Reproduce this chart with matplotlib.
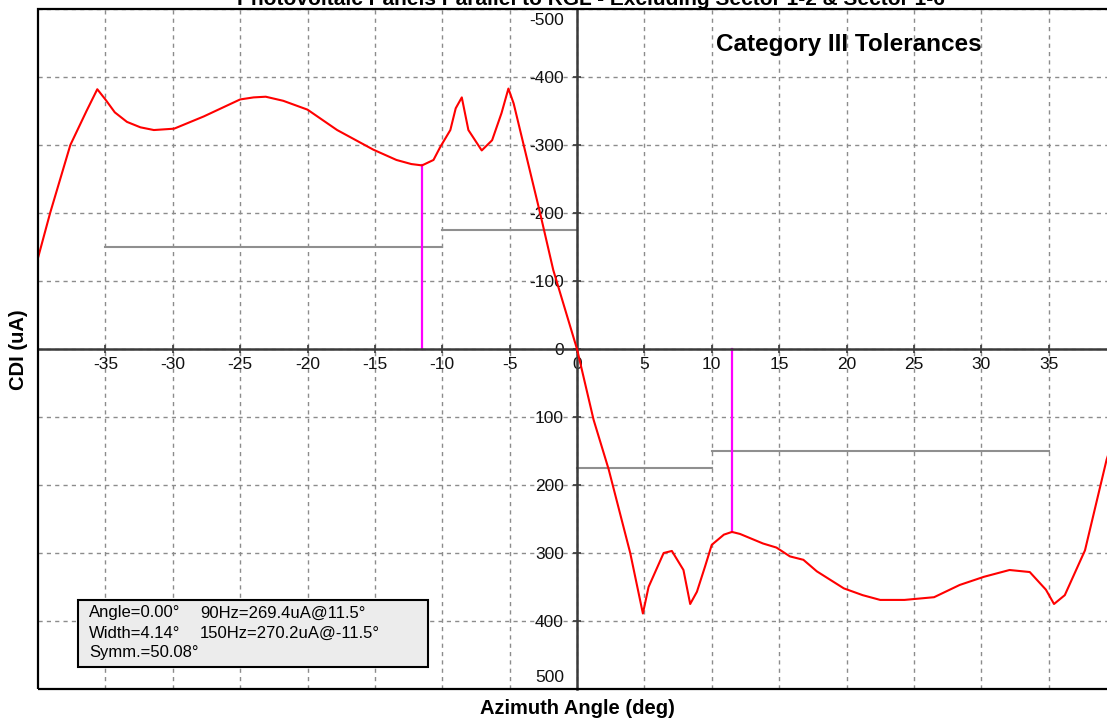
import matplotlib
matplotlib.use('Agg')
import matplotlib.pyplot as plt
from matplotlib.patches import Rectangle

plt.rcParams['font.family'] = ['Liberation Sans', 'DejaVu Sans']

# CDI curve (deg, uA) - left half is 150Hz side (negative)
angle = [-40, -39.1, -37.6, -36.4, -35.6, -35.0, -34.3, -33.4, -32.4, -31.4,
         -29.9, -27.7, -25.0, -24.0, -23.1, -21.8, -20.0, -17.8, -15.1, -13.4,
         -12.3, -11.5, -10.65, -10.15, -9.4, -9.0, -8.55, -8.06, -7.07, -6.3,
         -5.6, -5.09, -4.7, -2.74, -1.76, 0,
         1.23, 2.35, 3.95, 4.89, 5.31, 6.43, 7.04, 7.9, 8.4, 8.9,
         9.5, 10.0, 10.9, 11.5, 12.1, 13.8, 14.8, 15.8, 16.8, 17.8,
         19.8, 21.2, 22.5, 24.3, 26.5, 28.4, 30.2, 32.1, 33.6, 34.8,
         35.4, 36.2, 37.7, 39.3, 40]
cdi = [-134, -200, -300, -350, -382, -367, -348, -334, -326, -322,
       -324, -342, -367, -370, -371, -365, -352, -322, -293, -278,
       -272, -270, -278, -297, -322, -354, -370, -322, -292, -307,
       -347, -383, -361, -200, -116, 0,
       104, 177, 300, 389, 350, 300, 297, 325, 375, 357,
       320, 288, 273, 269, 272, 286, 292, 305, 310, 327,
       352, 362, 369, 369, 365, 347, 335, 325, 328, 354,
       375, 362, 296, 163, 120]

# tolerance steps (x0, x1, level)
tol_x0 = [-35, -10, 0, 10]
tol_x1 = [-10, 0, 10, 35]
tol_y = [-150, -175, 175, 150]

# min CDI markers
mark_x = [-11.5, 11.5]
mark_y = [-270.2, 269.4]

xticks = list(range(-35, 45, 5))
yticks = list(range(-500, 600, 100))

title = 'Photovoltaic Panels Parallel to RGL - Excluding Sector 1-2 & Sector 1-6'
info = [('Angle=0.00\u00b0', '90Hz=269.4uA@11.5\u00b0'),
        ('Width=4.14\u00b0', '150Hz=270.2uA@-11.5\u00b0'),
        ('Symm.=50.08\u00b0', '')]

W, H = 1107.0, 722.0
fig = plt.figure(figsize=(W / 100, H / 100), dpi=100)
fig.patch.set_facecolor('white')
L, R, T, B = 38, 1116, 9, 689
ax = fig.add_axes([L / W, 1 - B / H, (R - L) / W, (B - T) / H])
ax.set_xlim(-40, 40)
ax.set_ylim(500, -500)

ax.set_xticks(xticks)
ax.set_yticks(yticks)
ax.grid(True, color='#8c8c8c', linestyle=(0, (3, 3)), linewidth=1.0, zorder=0)

# centre axes
for s in ['top', 'right']:
    ax.spines[s].set_visible(False)
ax.spines['left'].set_position(('data', 0))
ax.spines['bottom'].set_position(('data', 0))
for s in ['left', 'bottom']:
    ax.spines[s].set_color('#3a3a3a')
    ax.spines[s].set_linewidth(1.8)
    ax.spines[s].set_zorder(3)
ax.tick_params(axis='both', direction='inout', length=6, width=1.2,
               color='#3a3a3a', labelsize=12.5, labelcolor='#111111')
ax.tick_params(axis='x', pad=2.5)
ax.tick_params(axis='y', pad=6.5)
ax.set_xticklabels([str(v) for v in xticks])
ylab = [str(v) for v in yticks]
ylab[0] = ''
ylab[-1] = ''
ax.set_yticklabels(ylab)
ax.annotate('-500', xy=(0, -500), xytext=(-9.5, -3), textcoords='offset points',
            ha='right', va='top', fontsize=12.5, color='#111111')
ax.annotate('500', xy=(0, 500), xytext=(-9.5, 3), textcoords='offset points',
            ha='right', va='bottom', fontsize=12.5, color='#111111')

# outer frame
ax.add_patch(Rectangle((0, 0), 1, 1, transform=ax.transAxes, fill=False,
                       edgecolor='black', linewidth=1.6, clip_on=False, zorder=5))

for i in range(len(tol_y)):
    ax.plot([tol_x0[i], tol_x1[i]], [tol_y[i], tol_y[i]], color='#8f8f8f', lw=1.5, zorder=2)
for i in range(len(mark_x)):
    ax.plot([mark_x[i], mark_x[i]], [0, mark_y[i]], color='#ff00ff', lw=1.6, zorder=2)
ax.plot(angle, cdi, color='#ff0000', lw=1.5, zorder=4)

fig.text(849 / W, 1 - 44 / H, 'Category III Tolerances', ha='center', va='center',
         fontsize=17.5, fontweight='bold')
fig.text(591 / W, 1 - 5 / H, title, ha='center', va='baseline', fontsize=15,
         fontweight='bold')
fig.text(577 / W, 1 - 708 / H, 'Azimuth Angle (deg)', ha='center', va='center',
         fontsize=14.5, fontweight='bold')
fig.text(18 / W, 1 - 350 / H, 'CDI (uA)', ha='center', va='center', rotation=90,
         fontsize=14.5, fontweight='bold')

# info box
fig.patches.append(Rectangle((78 / W, 1 - 667 / H), 350 / W, 67 / H,
                             transform=fig.transFigure, facecolor='#ececec',
                             edgecolor='black', linewidth=1.5, zorder=6))
for i, (a, b) in enumerate(info):
    y = 1 - (613 + 20 * i) / H
    fig.text(89 / W, y, a, ha='left', va='center', fontsize=12, zorder=7)
    if b:
        fig.text(200 / W, y, b, ha='left', va='center', fontsize=12, zorder=7)

fig.savefig('out.png', dpi=100)
